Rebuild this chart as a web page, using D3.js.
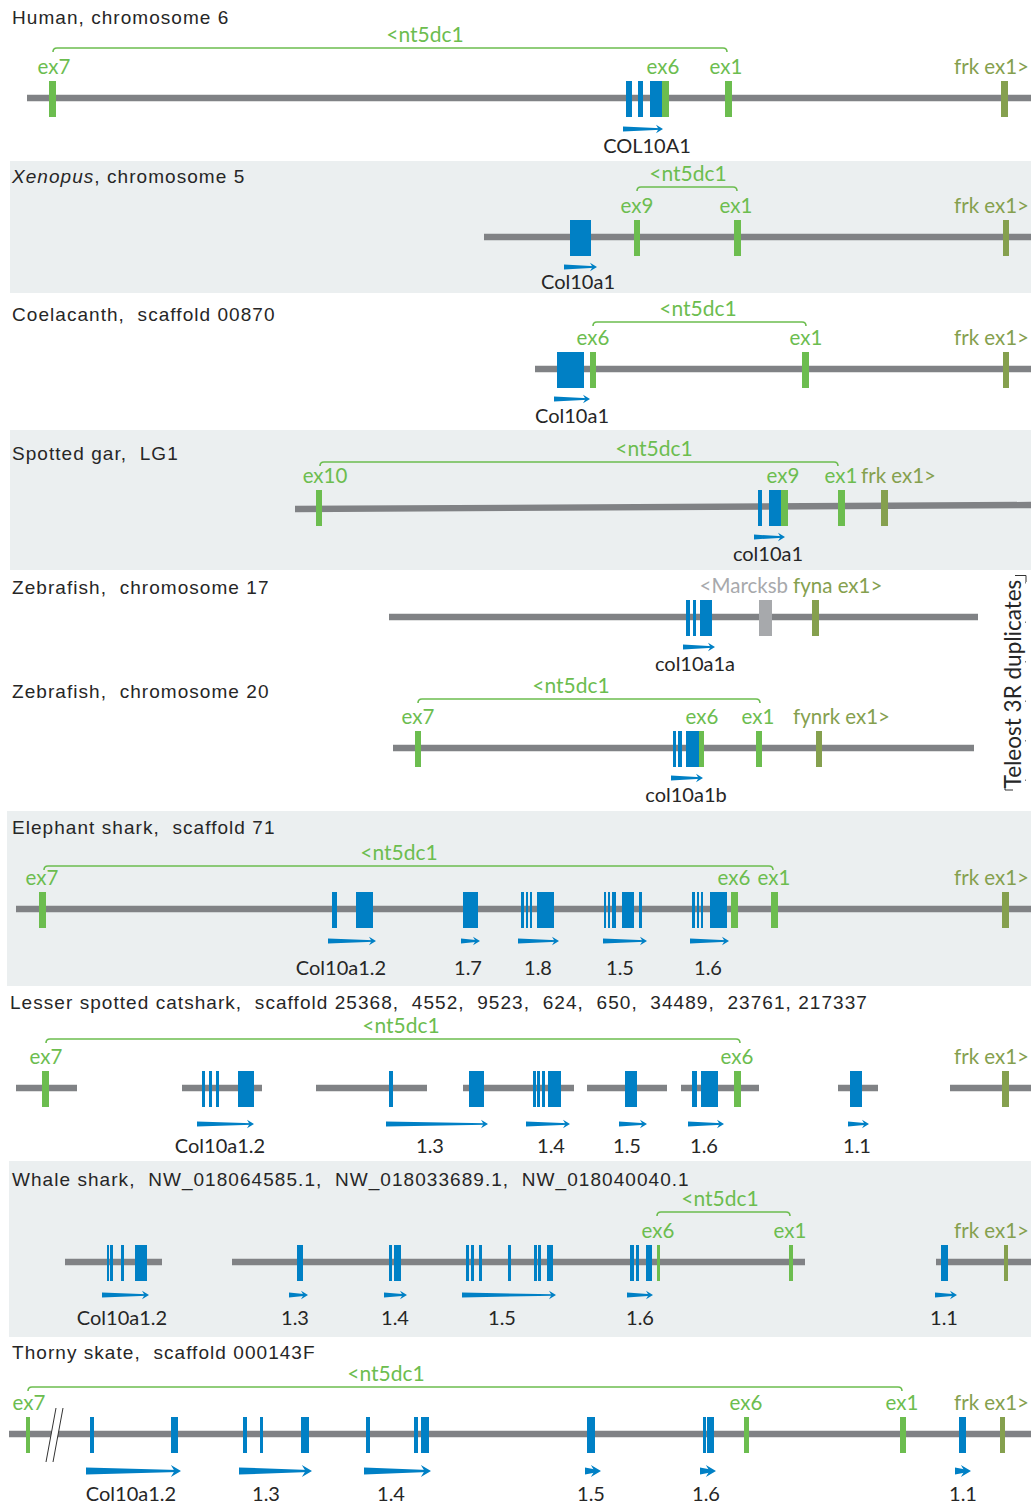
<!DOCTYPE html>
<html>
<head>
<meta charset="utf-8">
<script src="https://cdn.jsdelivr.net/npm/d3@7"></script>
<style>
  body { margin: 0; background: #fff; }
  .title { white-space: pre; }
</style>
</head>
<body>
<div id="chart"></div>
<script>
// DATA --------------------------------------------------------------------
// tracks, top to bottom
const tracks = ['human', 'xenopus', 'coelacanth', 'gar', 'zf17', 'zf20', 'eshark', 'catshark', 'wshark', 'skate'];

// titles: list of [text, italic]
const titles = {
  human: [['Human, chromosome 6', false]],
  xenopus: [['Xenopus', true], [', chromosome 5', false]],
  coelacanth: [['Coelacanth,  scaffold 00870', false]],
  gar: [['Spotted gar,  LG1', false]],
  zf17: [['Zebrafish,  chromosome 17', false]],
  zf20: [['Zebrafish,  chromosome 20', false]],
  eshark: [['Elephant shark,  scaffold 71', false]],
  catshark: [['Lesser spotted catshark,  scaffold 25368,  4552,  9523,  624,  650,  34489,  23761, 217337', false]],
  wshark: [['Whale shark,  NW_018064585.1,  NW_018033689.1,  NW_018040040.1', false]],
  skate: [['Thorny skate,  scaffold 000143F', false]]
};

// chromosome / scaffold segments: [track, start, end]
const segments = [
  ['human', 27, 1031], ['xenopus', 484, 1031], ['coelacanth', 535, 1031], ['gar', 295, 1031],
  ['zf17', 389, 978], ['zf20', 393, 974], ['eshark', 16, 1031],
  ['catshark', 16, 77], ['catshark', 182, 262], ['catshark', 316, 427], ['catshark', 463, 574],
  ['catshark', 587, 667], ['catshark', 681, 759], ['catshark', 838, 878], ['catshark', 950, 1031],
  ['wshark', 65, 162], ['wshark', 232, 805], ['wshark', 936, 1031],
  ['skate', 9, 1031]
];

// col10a1 exons (blue): [track, start, end]
const colExons = [
  ['human', 626, 632], ['human', 638, 643], ['human', 650, 662],
  ['xenopus', 570, 591],
  ['coelacanth', 557, 584],
  ['gar', 758, 762], ['gar', 769, 781],
  ['zf17', 686, 690], ['zf17', 693, 696], ['zf17', 700, 712],
  ['zf20', 673, 676], ['zf20', 678, 682], ['zf20', 686, 699],
  ['eshark', 332, 337], ['eshark', 356, 373], ['eshark', 463, 478],
  ['eshark', 521, 524], ['eshark', 526, 528], ['eshark', 530, 532], ['eshark', 537, 554],
  ['eshark', 604, 606], ['eshark', 608, 610], ['eshark', 612, 616], ['eshark', 622, 634], ['eshark', 639, 642],
  ['eshark', 692, 695], ['eshark', 697, 699], ['eshark', 701, 703], ['eshark', 710, 727],
  ['catshark', 202, 205], ['catshark', 209, 212], ['catshark', 216, 219], ['catshark', 238, 254],
  ['catshark', 389, 393], ['catshark', 469, 484],
  ['catshark', 533, 536], ['catshark', 537, 540], ['catshark', 542, 545], ['catshark', 548, 561],
  ['catshark', 625, 637], ['catshark', 692, 697], ['catshark', 701, 718], ['catshark', 850, 862],
  ['wshark', 107, 109], ['wshark', 110, 113], ['wshark', 121, 124], ['wshark', 135, 147],
  ['wshark', 297, 303], ['wshark', 389, 392], ['wshark', 394, 401],
  ['wshark', 466, 469], ['wshark', 471, 474], ['wshark', 479, 482], ['wshark', 508, 511],
  ['wshark', 534, 537], ['wshark', 538, 541], ['wshark', 547, 553],
  ['wshark', 630, 634], ['wshark', 636, 639], ['wshark', 646, 652], ['wshark', 941, 948],
  ['skate', 90, 94], ['skate', 171, 178], ['skate', 243, 247], ['skate', 260, 263], ['skate', 301, 309],
  ['skate', 366, 370], ['skate', 414, 418], ['skate', 421, 429], ['skate', 587, 595],
  ['skate', 703, 706], ['skate', 707, 714], ['skate', 959, 966]
];

// nt5dc1 exons (green): [track, start, end]
const ntExons = [
  ['human', 49, 56], ['human', 662, 669], ['human', 725, 732],
  ['xenopus', 634, 640], ['xenopus', 734, 741],
  ['coelacanth', 590, 596], ['coelacanth', 802, 809],
  ['gar', 316, 322], ['gar', 781, 788], ['gar', 838, 845],
  ['zf20', 415, 421], ['zf20', 699, 704], ['zf20', 756, 762],
  ['eshark', 39, 46], ['eshark', 731, 738], ['eshark', 771, 778],
  ['catshark', 42, 49], ['catshark', 734, 741],
  ['wshark', 657, 660], ['wshark', 789, 793],
  ['skate', 26, 30], ['skate', 744, 749], ['skate', 900, 906]
];

// frk / fyn exon 1 (olive): [track, start, end]
const frkExons = [
  ['human', 1001, 1008], ['xenopus', 1003, 1009], ['coelacanth', 1003, 1009], ['gar', 881, 888],
  ['zf17', 812, 819], ['zf20', 816, 822], ['eshark', 1002, 1009], ['catshark', 1002, 1009],
  ['wshark', 1004, 1008], ['skate', 1000, 1005]
];

// other gene (grey): [track, start, end]
const otherExons = [['zf17', 759, 772]];

// exon labels: [track, position, anchor, text, kind]
const exonLabels = [
  ['human', 54, 'middle', 'ex7', 'nt'], ['human', 663, 'middle', 'ex6', 'nt'], ['human', 726, 'middle', 'ex1', 'nt'], ['human', 1029, 'end', 'frk ex1>', 'frk'],
  ['xenopus', 637, 'middle', 'ex9', 'nt'], ['xenopus', 736, 'middle', 'ex1', 'nt'], ['xenopus', 1029, 'end', 'frk ex1>', 'frk'],
  ['coelacanth', 593, 'middle', 'ex6', 'nt'], ['coelacanth', 806, 'middle', 'ex1', 'nt'], ['coelacanth', 1029, 'end', 'frk ex1>', 'frk'],
  ['gar', 325, 'middle', 'ex10', 'nt'], ['gar', 783, 'middle', 'ex9', 'nt'], ['gar', 841, 'middle', 'ex1', 'nt'], ['gar', 861, 'start', 'frk ex1>', 'frk'],
  ['zf17', 788, 'end', '<Marcksb', 'other'], ['zf17', 793, 'start', 'fyna ex1>', 'frk'],
  ['zf20', 418, 'middle', 'ex7', 'nt'], ['zf20', 702, 'middle', 'ex6', 'nt'], ['zf20', 758, 'middle', 'ex1', 'nt'], ['zf20', 793, 'start', 'fynrk ex1>', 'frk'],
  ['eshark', 42, 'middle', 'ex7', 'nt'], ['eshark', 734, 'middle', 'ex6', 'nt'], ['eshark', 774, 'middle', 'ex1', 'nt'], ['eshark', 1029, 'end', 'frk ex1>', 'frk'],
  ['catshark', 46, 'middle', 'ex7', 'nt'], ['catshark', 737, 'middle', 'ex6', 'nt'], ['catshark', 1029, 'end', 'frk ex1>', 'frk'],
  ['wshark', 658, 'middle', 'ex6', 'nt'], ['wshark', 790, 'middle', 'ex1', 'nt'], ['wshark', 1029, 'end', 'frk ex1>', 'frk'],
  ['skate', 29, 'middle', 'ex7', 'nt'], ['skate', 746, 'middle', 'ex6', 'nt'], ['skate', 902, 'middle', 'ex1', 'nt'], ['skate', 1029, 'end', 'frk ex1>', 'frk']
];

// nt5dc1 span brackets: [track, start, end, label position]
const brackets = [
  ['human', 53, 727, 425], ['xenopus', 637, 737, 688], ['coelacanth', 593, 806, 698],
  ['gar', 320, 838, 654], ['zf20', 418, 760, 571], ['eshark', 44, 773, 399],
  ['catshark', 46, 740, 401], ['wshark', 657, 790, 720], ['skate', 28, 902, 386]
];

// col10a1 gene direction arrows: [track, start, end, label, label position]
const arrows = [
  ['human', 623, 663, 'COL10A1', 647],
  ['xenopus', 564, 597, 'Col10a1', 578],
  ['coelacanth', 554, 590, 'Col10a1', 572],
  ['gar', 754, 785, 'col10a1', 768],
  ['zf17', 683, 715, 'col10a1a', 695],
  ['zf20', 671, 703, 'col10a1b', 686],
  ['eshark', 328, 376, 'Col10a1.2', 341], ['eshark', 461, 480, '1.7', 468], ['eshark', 518, 559, '1.8', 538],
  ['eshark', 603, 647, '1.5', 620], ['eshark', 690, 729, '1.6', 708],
  ['catshark', 197, 254, 'Col10a1.2', 220], ['catshark', 386, 488, '1.3', 430], ['catshark', 526, 570, '1.4', 551],
  ['catshark', 619, 647, '1.5', 627], ['catshark', 688, 724, '1.6', 704], ['catshark', 848, 869, '1.1', 857],
  ['wshark', 102, 149, 'Col10a1.2', 122], ['wshark', 289, 308, '1.3', 295], ['wshark', 384, 407, '1.4', 395],
  ['wshark', 462, 556, '1.5', 502], ['wshark', 627, 653, '1.6', 640], ['wshark', 935, 957, '1.1', 944],
  ['skate', 86, 181, 'Col10a1.2', 131], ['skate', 239, 312, '1.3', 266], ['skate', 364, 431, '1.4', 391],
  ['skate', 585, 601, '1.5', 591], ['skate', 700, 716, '1.6', 706], ['skate', 955, 971, '1.1', 963]
];

const duplicateNote = 'Teleost 3R duplicates';

// LAYOUT ------------------------------------------------------------------
const width = 1031, height = 1507;
const rows = {
  human:      {line: 98,   title: 24,   bracket: 48,   arrow: 31, label: 55},
  xenopus:    {line: 237,  title: 183,  bracket: 187,  arrow: 30, label: 52, bg: [161, 293, 10]},
  coelacanth: {line: 369,  title: 321,  bracket: 322,  arrow: 30, label: 54},
  gar:        {line: 507,  title: 460,  bracket: 462,  arrow: 30, label: 54, bg: [430, 570, 10], tilt: 4},
  zf17:       {line: 617,  title: 594,  bracket: 570,  arrow: 30, label: 54},
  zf20:       {line: 748,  title: 698,  bracket: 699,  arrow: 30, label: 54},
  eshark:     {line: 909,  title: 834,  bracket: 866,  arrow: 32, label: 66, bg: [811, 986, 7]},
  catshark:   {line: 1088, title: 1009, bracket: 1039, arrow: 36, label: 65},
  wshark:     {line: 1262, title: 1186, bracket: 1212, arrow: 33, label: 63, bg: [1161, 1337, 9]},
  skate:      {line: 1434, title: 1359, bracket: 1387, arrow: 37, label: 67, k: 1.45}
};

const colors = {
  line: '#808285', col: '#0080c5', nt: '#6cbd4f', frk: '#85a04e', other: '#a7a9ac',
  bg: '#ebeff0', text: '#262626'
};

const labelFont = 'Lato, "Open Sans", sans-serif';
const titleFont = '"Liberation Sans", Arial, sans-serif';

const x = d3.scaleLinear().domain([0, 1031]).range([0, width]);
const lineY = t => rows[t].line;

const svg = d3.select('#chart')
  .append('svg')
  .attr('width', width)
  .attr('height', height);

// shaded panels
svg.selectAll('.panel-bg')
  .data(tracks.filter(t => rows[t].bg))
  .enter().append('rect')
  .attr('class', 'panel-bg')
  .attr('x', t => rows[t].bg[2])
  .attr('y', t => rows[t].bg[0])
  .attr('width', t => width - rows[t].bg[2])
  .attr('height', t => rows[t].bg[1] - rows[t].bg[0])
  .attr('fill', colors.bg);

// titles
svg.selectAll('.title')
  .data(tracks)
  .enter().append('text')
  .attr('class', 'title')
  .attr('x', t => t === 'catshark' ? 10 : 12)
  .attr('y', t => rows[t].title)
  .attr('font-family', titleFont)
  .attr('font-size', 19)
  .attr('letter-spacing', 1.05)
  .attr('fill', colors.text)
  .each(function(t) {
    d3.select(this).selectAll('tspan')
      .data(titles[t])
      .enter().append('tspan')
      .attr('font-style', d => d[1] ? 'italic' : 'normal')
      .text(d => d[0]);
  });

// chromosome lines
svg.selectAll('.segment')
  .data(segments)
  .enter().append('path')
  .attr('class', 'segment')
  .attr('fill', colors.line)
  .attr('d', d => {
    const y = lineY(d[0]), tilt = rows[d[0]].tilt || 0, h = 3.2;
    const x0 = x(d[1]), x1 = x(d[2]);
    return `M${x0},${y - h + tilt / 2}L${x1},${y - h - tilt / 2}L${x1},${y + h - tilt / 2}L${x0},${y + h + tilt / 2}Z`;
  });

// exons
function drawExons(data, cls, color) {
  svg.selectAll('.' + cls)
    .data(data)
    .enter().append('rect')
    .attr('class', cls)
    .attr('x', d => x(d[1]))
    .attr('width', d => x(d[2]) - x(d[1]))
    .attr('y', d => lineY(d[0]) - 17)
    .attr('height', 36)
    .attr('fill', color);
}
drawExons(colExons, 'col-exon', colors.col);
drawExons(otherExons, 'other-exon', colors.other);
drawExons(ntExons, 'nt-exon', colors.nt);
drawExons(frkExons, 'frk-exon', colors.frk);

// exon labels
svg.selectAll('.exon-label')
  .data(exonLabels)
  .enter().append('text')
  .attr('class', 'exon-label')
  .attr('x', d => x(d[1]))
  .attr('y', d => lineY(d[0]) - 24)
  .attr('text-anchor', d => d[2])
  .attr('font-family', labelFont)
  .attr('font-size', 20.5)
  .attr('fill', d => colors[d[4]])
  .text(d => d[3]);

// nt5dc1 brackets
svg.selectAll('.bracket')
  .data(brackets)
  .enter().append('path')
  .attr('class', 'bracket')
  .attr('fill', 'none')
  .attr('stroke', colors.nt)
  .attr('stroke-width', 1.6)
  .attr('d', d => {
    const y = rows[d[0]].bracket, x0 = x(d[1]), x1 = x(d[2]);
    return `M${x0},${y + 4}Q${x0},${y} ${x0 + 4},${y}L${x1 - 4},${y}Q${x1},${y} ${x1},${y + 4}`;
  });

svg.selectAll('.bracket-label')
  .data(brackets)
  .enter().append('text')
  .attr('class', 'bracket-label')
  .attr('x', d => x(d[3]))
  .attr('y', d => rows[d[0]].bracket - 6)
  .attr('text-anchor', 'middle')
  .attr('font-family', labelFont)
  .attr('font-size', 21)
  .attr('fill', colors.nt)
  .text('<nt5dc1');

// direction arrows
function arrowShaft(d) {
  const k = rows[d[0]].k || 1, y = lineY(d[0]) + rows[d[0]].arrow;
  const x0 = x(d[1]), x1 = x(d[2]) - 2 * k;
  return `M${x0},${y - 2.4 * k}L${x1},${y - 0.7 * k}L${x1},${y + 0.7 * k}L${x0},${y + 2.4 * k}Z`;
}
function arrowHead(d) {
  const k = rows[d[0]].k || 1, y = lineY(d[0]) + rows[d[0]].arrow;
  const x1 = x(d[2]), hl = 7 * k, hw = 4.2 * k;
  return `M${x1 - hl},${y - hw}L${x1},${y}L${x1 - hl},${y + hw}L${x1 - hl + 2.5 * k},${y}Z`;
}
const arrowG = svg.selectAll('.arrow')
  .data(arrows)
  .enter().append('g')
  .attr('class', 'arrow')
  .attr('fill', colors.col);
arrowG.append('path').attr('d', arrowShaft);
arrowG.append('path').attr('d', arrowHead);

svg.selectAll('.gene-label')
  .data(arrows)
  .enter().append('text')
  .attr('class', 'gene-label')
  .attr('x', d => x(d[4]))
  .attr('y', d => lineY(d[0]) + rows[d[0]].label)
  .attr('text-anchor', 'middle')
  .attr('font-family', labelFont)
  .attr('font-size', 20)
  .attr('fill', colors.text)
  .text(d => d[3]);

// scaffold break on the skate track
const brk = svg.append('g').attr('class', 'break');
const by = lineY('skate');
brk.append('path')
  .attr('d', `M${x(56)},${by - 26}L${x(63)},${by - 26}L${x(53)},${by + 28}L${x(46)},${by + 28}Z`)
  .attr('fill', '#fff');
brk.selectAll('line')
  .data([[56, 46], [63, 53]])
  .enter().append('line')
  .attr('x1', d => x(d[0])).attr('y1', by - 26)
  .attr('x2', d => x(d[1])).attr('y2', by + 28)
  .attr('stroke', '#333').attr('stroke-width', 1);

// teleost duplicates note (vertical, right side)
const note = svg.append('g').attr('class', 'note');
note.append('text')
  .attr('transform', `translate(${x(1021)},684) rotate(-90)`)
  .attr('text-anchor', 'middle')
  .attr('font-family', labelFont)
  .attr('font-size', 22.5)
  .attr('fill', colors.text)
  .text(duplicateNote);
note.append('path')
  .attr('d', `M${x(1015)},575.5H${x(1026)}V582M${x(1005)},777V790H${x(1013)}`)
  .attr('fill', 'none')
  .attr('stroke', '#333')
  .attr('stroke-width', 1);
note.append('line')
  .attr('x1', x(1025.5)).attr('x2', x(1025.5))
  .attr('y1', 582).attr('y2', 786)
  .attr('stroke', '#333')
  .attr('stroke-width', 0.6)
  .attr('stroke-dasharray', '1.5 38');
</script>
</body>
</html>
